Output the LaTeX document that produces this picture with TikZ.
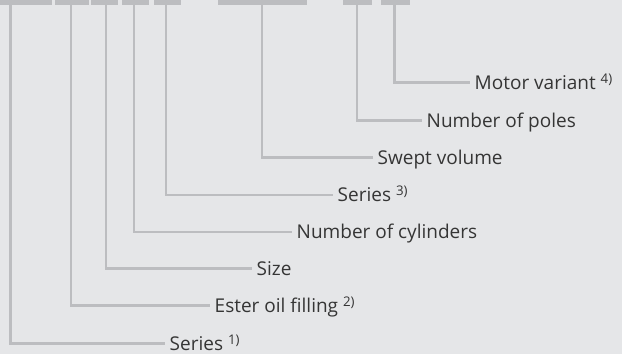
\documentclass[tikz,border=0pt]{standalone}
\usepackage{fontspec}
\setmainfont{Open Sans}
\usepackage{xcolor}
\usetikzlibrary{positioning}
\definecolor{bggray}{HTML}{E5E6E8}
\definecolor{stemgray}{HTML}{BCBDC0}
\definecolor{txtgray}{HTML}{353535}
\tikzset{
  codebar/.style={rectangle, fill=stemgray, inner sep=0pt,
                  minimum height=5pt, minimum width=#1, anchor=north west},
  stem/.style={draw=stemgray, line width=2.5pt},
  keylbl/.style={anchor=west, inner xsep=4.5pt, inner ysep=0pt,
                 text height=13.6pt, text depth=0pt, text=txtgray,
                 font=\fontsize{19}{22}\selectfont},
}
\newcommand{\fnref}[1]{ \textsuperscript{#1)}}

\begin{document}
\begin{tikzpicture}[x=1pt, y=-1pt]
  \path[use as bounding box, fill=bggray] (0,0) rectangle (622,354);
  % code bars
  \node[codebar=52pt] (b1) at (0,0)   {};
  \node[codebar=34pt] (b2) at (55,0)  {};
  \node[codebar=27pt] (b3) at (91,0)  {};
  \node[codebar=27pt] (b4) at (122,0) {};
  \node[codebar=27pt] (b5) at (154,0) {};
  \node[codebar=89pt] (b6) at (218,0) {};
  \node[codebar=29pt] (b7) at (343,0) {};
  \node[codebar=29pt] (b8) at (381,0) {};
  % stem tops
  \coordinate (s1) at (10.5,4);
  \coordinate (s2) at (71,4);
  \coordinate (s3) at (106,4);
  \coordinate (s4) at (134,4);
  \coordinate (s5) at (166,4);
  \coordinate (s6) at (262,4);
  \coordinate (s7) at (357,4);
  \coordinate (s8) at (394.5,4);
  % labels
  \node[keylbl] (l1) at (165,343.5) {Series\fnref{1}};
  \node[keylbl] (l2) at (210,305.5) {Ester oil filling\fnref{2}};
  \node[keylbl] (l3) at (252,268.5) {Size};
  \node[keylbl] (l4) at (292,232)   {Number of cylinders};
  \node[keylbl] (l5) at (333,195)   {Series\fnref{3}};
  \node[keylbl] (l6) at (373,157.5) {Swept volume};
  \node[keylbl] (l7) at (422,120.5) {Number of poles};
  \node[keylbl] (l8) at (470,82.5)  {Motor variant\fnref{4}};
  \draw[stem] (s1) |- (l1.west);
  \draw[stem] (s2) |- (l2.west);
  \draw[stem] (s3) |- (l3.west);
  \draw[stem] (s4) |- (l4.west);
  \draw[stem] (s5) |- (l5.west);
  \draw[stem] (s6) |- (l6.west);
  \draw[stem] (s7) |- (l7.west);
  \draw[stem] (s8) |- (l8.west);
\end{tikzpicture}
\end{document}
